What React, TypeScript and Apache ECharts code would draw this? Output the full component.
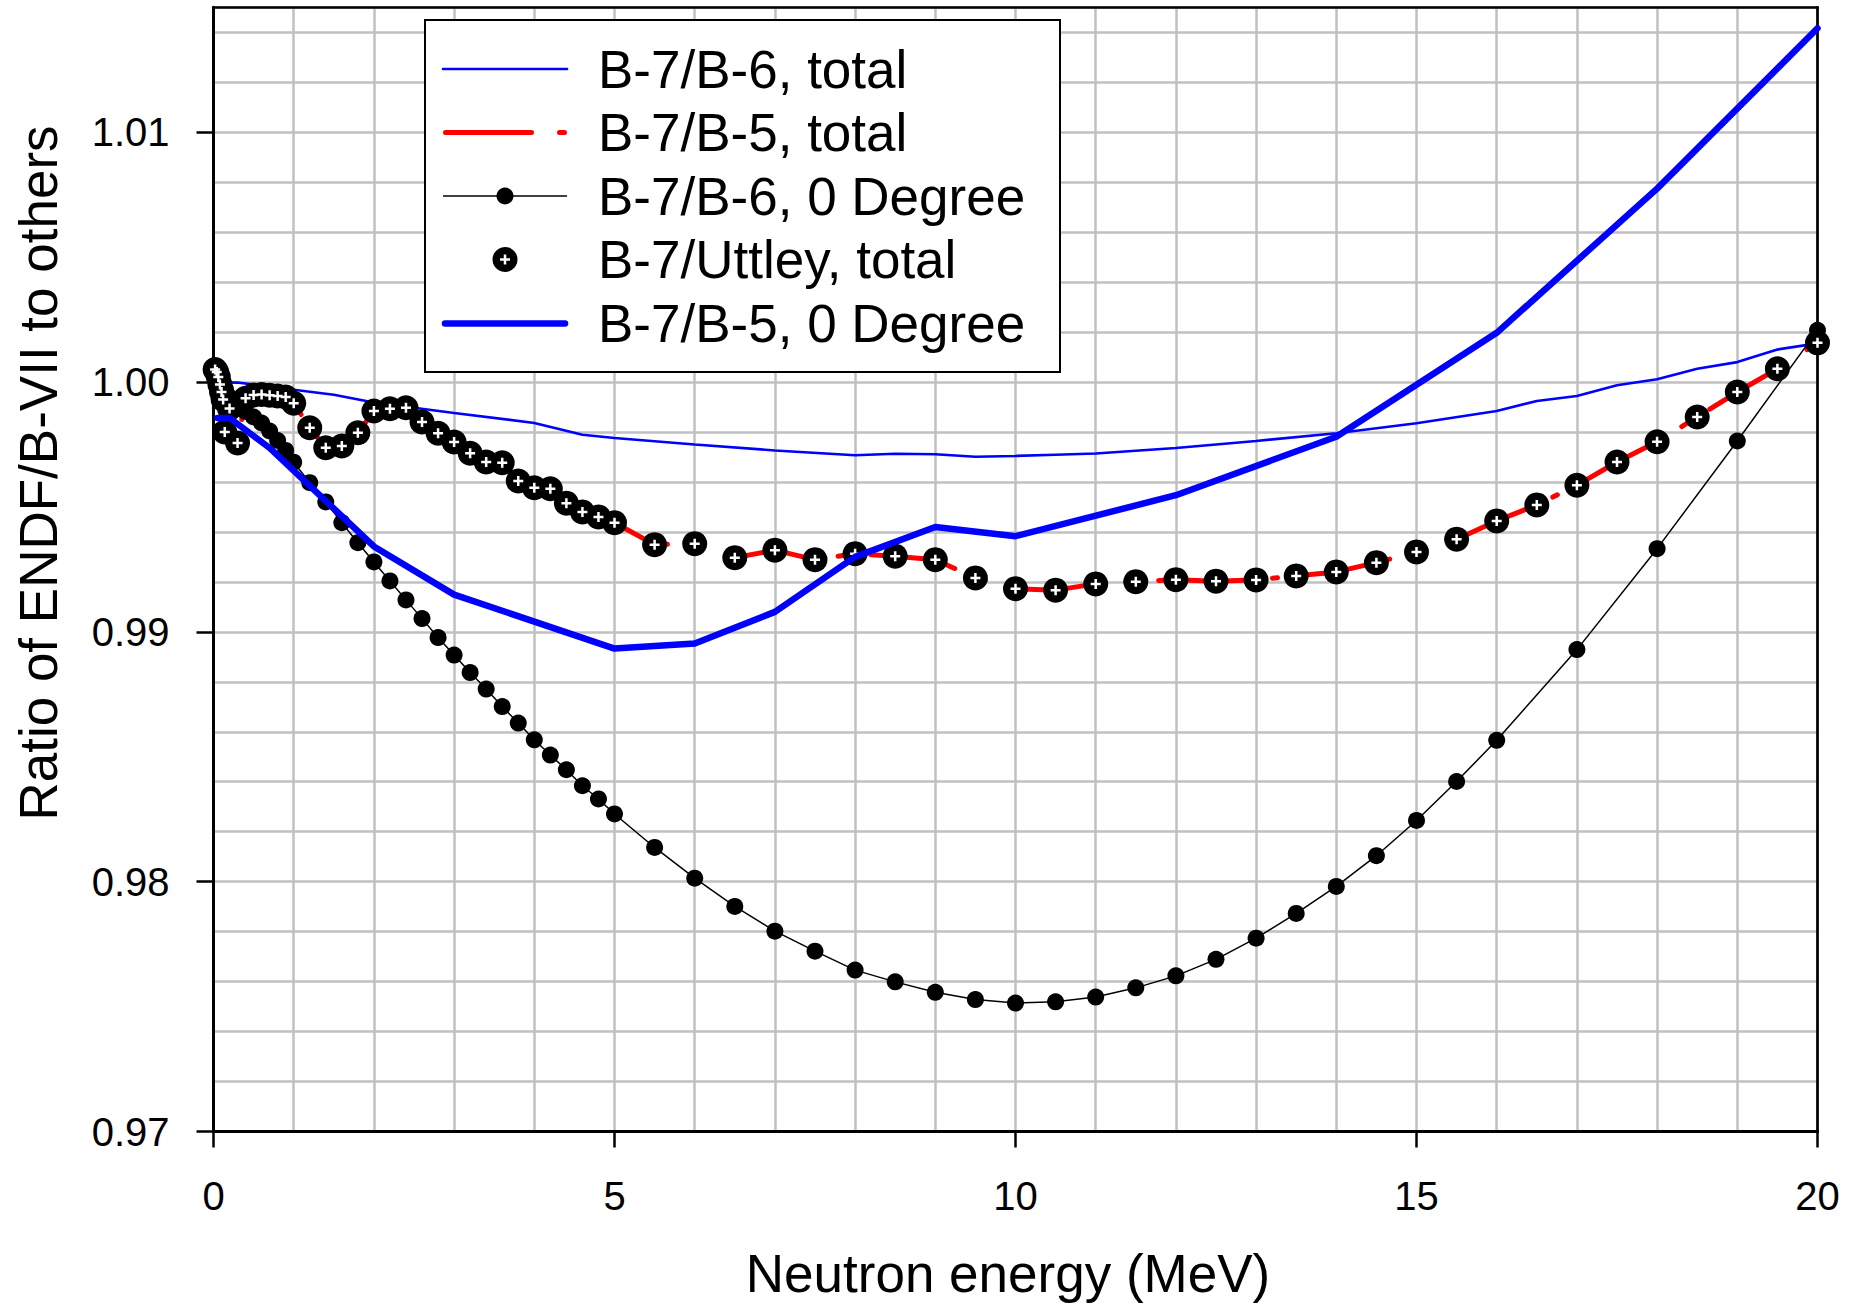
import React, { useEffect, useRef } from "react";
import * as echarts from "echarts";

// ---------------- data ----------------
// B-7/B-6, total (thin blue line)
const b6TotalX = [0, 0.3, 1, 1.5, 2, 3, 4, 4.6, 5, 6, 7, 8, 8.5, 9, 9.5, 10, 10.5, 11, 12, 13, 14, 15, 16, 16.5, 17, 17.5, 18, 18.5, 19, 19.5, 20];
const b6TotalY = [1.0, 0.99998, 0.99969, 0.99949, 0.99918, 0.99876, 0.99836, 0.99789, 0.99776, 0.9975, 0.99726, 0.99707, 0.99713, 0.99711, 0.99701, 0.99704, 0.99709, 0.99714, 0.99736, 0.99764, 0.99795, 0.99835, 0.99884, 0.99924, 0.99944, 0.99987, 1.00011, 1.00053, 1.0008, 1.0013, 1.00155];

// B-7/Uttley, total (circles with plus)
const uttleyX = [0.02, 0.04, 0.06, 0.08, 0.1, 0.12, 0.14, 0.2, 0.3, 0.4, 0.5, 0.6, 0.7, 0.8, 0.9, 1.0, 1.2, 1.4, 1.6, 1.8, 2.0, 2.2, 2.4, 2.6, 2.8, 3.0, 3.2, 3.4, 3.6, 3.8, 4.0, 4.2, 4.4, 4.6, 4.8, 5.0, 5.5, 6, 6.5, 7, 7.5, 8, 8.5, 9, 9.5, 10, 10.5, 11, 11.5, 12, 12.5, 13, 13.5, 14, 14.5, 15, 15.5, 16, 16.5, 17, 17.5, 18, 18.5, 19, 19.5, 20];
const uttleyY = [1.0005, 1.0004, 1.0002, 0.9999, 0.9996, 0.9993, 0.998, 0.99894, 0.99756, 0.99935, 0.99948, 0.9995, 0.99947, 0.99944, 0.9994, 0.99915, 0.99817, 0.99737, 0.99744, 0.99797, 0.99884, 0.99893, 0.99897, 0.9984, 0.99795, 0.9976, 0.99715, 0.9968, 0.99677, 0.99604, 0.99577, 0.99573, 0.99515, 0.9948, 0.9946, 0.99437, 0.99349, 0.99353, 0.99297, 0.99327, 0.99289, 0.99313, 0.99303, 0.99289, 0.99216, 0.99173, 0.99167, 0.99192, 0.99201, 0.99209, 0.99203, 0.99208, 0.99224, 0.9924, 0.99277, 0.9932, 0.99371, 0.99444, 0.99508, 0.99587, 0.9968, 0.99761, 0.9986, 0.9996, 1.00053, 1.00157];

// B-7/B-5, total (red dash-dot line)
const b5TotalX = [0.02, 0.04, 0.06, 0.08, 0.1, 0.12, 0.14, 0.2, 0.3, 0.4, 0.5, 0.6, 0.7, 0.8, 0.9, 1.0, 1.2, 1.4, 1.6, 1.8, 2.0, 2.2, 2.4, 2.6, 2.8, 3.0, 3.2, 3.4, 3.6, 3.8, 4.0, 4.2, 4.4, 4.6, 4.8, 5.0, 5.5, 6, 6.5, 7, 7.5, 8, 8.5, 9, 9.5, 10, 10.5, 11, 11.5, 12, 12.5, 13, 13.5, 14, 14.5, 15, 15.5, 16, 16.5, 17, 17.5, 18, 18.5, 19, 19.5, 20];
const b5TotalY = [1.0005, 1.0004, 1.0002, 0.9999, 0.9996, 0.9993, 0.998, 0.99894, 0.99756, 0.99935, 0.99948, 0.9995, 0.99947, 0.99944, 0.9994, 0.99915, 0.99817, 0.99737, 0.99744, 0.99797, 0.99884, 0.99893, 0.99897, 0.9984, 0.99795, 0.9976, 0.99715, 0.9968, 0.99677, 0.99604, 0.99577, 0.99573, 0.99515, 0.9948, 0.9946, 0.99437, 0.99349, 0.99353, 0.99297, 0.99327, 0.99289, 0.99313, 0.99303, 0.99289, 0.99216, 0.99173, 0.99167, 0.99192, 0.99201, 0.99209, 0.99203, 0.99208, 0.99224, 0.9924, 0.99277, 0.9932, 0.99371, 0.99444, 0.99508, 0.99587, 0.9968, 0.99761, 0.9986, 0.9996, 1.00053, 1.00157];

// B-7/B-6, 0 Degree (black line with dots)
const b6DegX = [0.01, 0.03, 0.06, 0.1, 0.15, 0.2, 0.3, 0.4, 0.5, 0.6, 0.7, 0.8, 0.9, 1.0, 1.2, 1.4, 1.6, 1.8, 2.0, 2.2, 2.4, 2.6, 2.8, 3.0, 3.2, 3.4, 3.6, 3.8, 4.0, 4.2, 4.4, 4.6, 4.8, 5.0, 5.5, 6, 6.5, 7, 7.5, 8, 8.5, 9, 9.5, 10, 10.5, 11, 11.5, 12, 12.5, 13, 13.5, 14, 14.5, 15, 15.5, 16, 17, 18, 19, 20];
const b6DegY = [1.0006, 1.0005, 1.0003, 1.0, 0.9997, 0.9994, 0.9991, 0.99882, 0.9986, 0.99836, 0.99804, 0.99766, 0.99726, 0.99679, 0.99597, 0.9952, 0.99437, 0.99357, 0.9928, 0.99204, 0.99128, 0.99053, 0.98977, 0.98907, 0.98837, 0.98771, 0.98701, 0.98635, 0.98568, 0.98507, 0.98448, 0.98384, 0.98331, 0.98271, 0.98137, 0.98014, 0.97901, 0.97802, 0.97722, 0.97646, 0.97599, 0.97557, 0.97528, 0.97514, 0.97519, 0.97538, 0.97575, 0.97623, 0.97689, 0.97774, 0.97873, 0.97981, 0.98104, 0.98245, 0.98401, 0.98566, 0.98929, 0.99333, 0.99764, 1.00207];

// B-7/B-5, 0 Degree (thick blue line)
const b5DegX = [0.05, 0.2, 0.7, 2, 3, 5, 6, 7, 8, 9, 10, 12, 14, 16, 18, 20];
const b5DegY = [0.99856, 0.99856, 0.99736, 0.99342, 0.99149, 0.98933, 0.98953, 0.9908, 0.993, 0.9942, 0.99383, 0.99547, 0.99781, 1.00197, 1.00774, 1.01416];

// axes
const xMajorTicks = [0, 5, 10, 15, 20];
const yMajorTicks = [0.97, 0.98, 0.99, 1.0, 1.01];

const legendNames = ["B-7/B-6, total", "B-7/B-5, total", "B-7/B-6, 0 Degree", "B-7/Uttley, total", "B-7/B-5, 0 Degree"];

const zip = (xs: number[], ys: number[]) => xs.map((x, i) => [x, ys[i]]);

const FONT = '"Liberation Sans", Arial, Helvetica, sans-serif';
const BLUE = "#0000ff";
const RED = "#ff0000";
const PLUS_PATH = "path://M-1,-4L1,-4L1,-1L4,-1L4,1L1,1L1,4L-1,4L-1,1L-4,1L-4,-1L-1,-1Z";
const RED_DASH = [86, 28, 5, 28];
const LZ = 200;

function buildLegend() {
  const rowY = [69, 132.5, 196, 259.5, 323.5];
  const x1 = 443;
  const x2 = 567;
  const xm = 505;
  const textX = 598;
  const els: any[] = [
    {
      type: "rect",
      z: LZ,
      shape: { x: 425, y: 20, width: 635, height: 352 },
      style: { fill: "#ffffff", stroke: "#000000", lineWidth: 2 },
    },
    { type: "line", z: LZ + 1, shape: { x1, y1: rowY[0], x2, y2: rowY[0] }, style: { stroke: BLUE, lineWidth: 2.7, lineCap: "round" } },
    { type: "line", z: LZ + 1, shape: { x1: x1 + 2.5, y1: rowY[1], x2: x2 - 2.5, y2: rowY[1] }, style: { stroke: RED, lineWidth: 5, lineCap: "round", lineDash: RED_DASH } },
    { type: "line", z: LZ + 1, shape: { x1, y1: rowY[2], x2, y2: rowY[2] }, style: { stroke: "#000", lineWidth: 1.5 } },
    { type: "circle", z: LZ + 2, shape: { cx: xm, cy: rowY[2], r: 8.5 }, style: { fill: "#000" } },
    { type: "circle", z: LZ + 2, shape: { cx: xm, cy: rowY[3], r: 12.5 }, style: { fill: "#000" } },
    { type: "rect", z: LZ + 3, shape: { x: xm - 5, y: rowY[3] - 1.25, width: 10, height: 2.5 }, style: { fill: "#fff" } },
    { type: "rect", z: LZ + 3, shape: { x: xm - 1.25, y: rowY[3] - 5, width: 2.5, height: 10 }, style: { fill: "#fff" } },
    { type: "line", z: LZ + 1, shape: { x1: x1 + 2, y1: rowY[4], x2: x2 - 2, y2: rowY[4] }, style: { stroke: BLUE, lineWidth: 6.5, lineCap: "round" } },
  ];
  legendNames.forEach((name, i) => {
    els.push({
      type: "text",
      z: LZ + 1,
      x: textX,
      y: rowY[i],
      style: { text: name, fill: "#000", font: `53px ${FONT}`, align: "left", verticalAlign: "middle" },
    });
  });
  return els;
}

export default function App() {
  const ref = useRef<HTMLDivElement>(null);

  useEffect(() => {
    if (!ref.current) return;
    const chart = echarts.init(ref.current, undefined, { renderer: "svg" });

    const hiddenAxisParts = {
      axisTick: { show: false },
      axisLabel: { show: false },
      splitLine: { show: false },
    };
    const gridLine = { show: true, lineStyle: { color: "#c0c0c0", width: 2.5 } };

    const option: any = {
      animation: false,
      backgroundColor: "#ffffff",
      grid: { left: 213.5, right: 32.5, top: 7.3, bottom: 172.5, containLabel: false },
      xAxis: [
        {
          type: "value",
          position: "bottom",
          min: 0,
          max: 20,
          interval: 5,
          axisLine: { show: true, onZero: false, lineStyle: { color: "#000", width: 3 } },
          axisTick: { show: true, customValues: xMajorTicks, length: 16, lineStyle: { color: "#000", width: 2.5 } },
          axisLabel: {
            show: true,
            customValues: xMajorTicks,
            margin: 44,
            color: "#000",
            fontSize: 40,
            fontFamily: FONT,
            formatter: (v: number) => String(v),
          },
          splitLine: { show: false },
          z: 3,
        },
        {
          type: "value",
          position: "top",
          min: 0,
          max: 20,
          axisLine: { show: true, onZero: false, lineStyle: { color: "#000", width: 2.7 } },
          ...hiddenAxisParts,
          z: 3,
        },
        {
          // minor 1 MeV grid
          type: "value",
          position: "bottom",
          min: 0,
          max: 20,
          interval: 1,
          axisLine: { show: false },
          axisTick: { show: false },
          axisLabel: { show: false },
          splitLine: gridLine,
          z: 0,
        },
      ],
      yAxis: [
        {
          type: "value",
          position: "left",
          min: 0.97,
          max: 1.015,
          interval: 0.01,
          axisLine: { show: true, onZero: false, lineStyle: { color: "#000", width: 3 } },
          axisTick: { show: true, customValues: yMajorTicks, length: 17, lineStyle: { color: "#000", width: 2.5 } },
          axisLabel: {
            show: true,
            customValues: yMajorTicks,
            margin: 44,
            color: "#000",
            fontSize: 40,
            fontFamily: FONT,
            formatter: (v: number) => v.toFixed(2),
          },
          splitLine: { show: false },
          z: 3,
        },
        {
          type: "value",
          position: "right",
          min: 0.97,
          max: 1.015,
          axisLine: { show: true, onZero: false, lineStyle: { color: "#000", width: 2.7 } },
          ...hiddenAxisParts,
          z: 3,
        },
        {
          // minor 0.002 grid
          type: "value",
          position: "left",
          min: 0.97,
          max: 1.015,
          interval: 0.002,
          axisLine: { show: false },
          axisTick: { show: false },
          axisLabel: { show: false },
          splitLine: gridLine,
          z: 0,
        },
      ],
      series: [
        {
          name: legendNames[0],
          type: "line",
          data: zip(b6TotalX, b6TotalY),
          symbol: "none",
          clip: false,
          lineStyle: { color: BLUE, width: 2.7 },
          itemStyle: { color: BLUE },
          z: 4,
        },
        {
          name: legendNames[1],
          type: "line",
          data: zip(b5TotalX, b5TotalY),
          symbol: "none",
          clip: false,
          lineStyle: { color: RED, width: 5, type: RED_DASH, cap: "round", join: "round" },
          itemStyle: { color: RED },
          z: 5,
        },
        {
          name: legendNames[2],
          type: "line",
          data: zip(b6DegX, b6DegY),
          symbol: "circle",
          symbolSize: 17,
          showSymbol: true,
          showAllSymbol: true,
          clip: false,
          lineStyle: { color: "#000", width: 1.5 },
          itemStyle: { color: "#000", borderWidth: 0 },
          z: 6,
        },
        {
          name: legendNames[3],
          type: "scatter",
          data: zip(uttleyX, uttleyY),
          symbol: "circle",
          symbolSize: 25,
          clip: false,
          itemStyle: { color: "#000", borderWidth: 0, opacity: 1 },
          z: 7,
        },
        {
          name: "uttley-plus",
          type: "scatter",
          data: zip(uttleyX, uttleyY),
          symbol: PLUS_PATH,
          symbolSize: 10,
          clip: false,
          silent: true,
          itemStyle: { color: "#ffffff", borderWidth: 0, opacity: 1 },
          z: 8,
        },
        {
          name: legendNames[4],
          type: "line",
          data: zip(b5DegX, b5DegY),
          symbol: "none",
          clip: false,
          lineStyle: { color: BLUE, width: 6.5, join: "round", cap: "round" },
          itemStyle: { color: BLUE },
          z: 9,
        },
      ],
      graphic: [
        ...buildLegend(),
        {
          type: "text",
          z: LZ,
          x: 38,
          y: 473,
          rotation: Math.PI / 2,
          style: {
            text: "Ratio of ENDF/B-VII to others",
            fill: "#000",
            font: `53px ${FONT}`,
            align: "center",
            verticalAlign: "middle",
          },
        },
        {
          type: "text",
          z: LZ,
          x: 1008,
          y: 1273,
          style: {
            text: "Neutron energy (MeV)",
            fill: "#000",
            font: `53px ${FONT}`,
            align: "center",
            verticalAlign: "middle",
          },
        },
      ],
    };

    chart.setOption(option);
    return () => {
      chart.dispose();
    };
  }, []);

  return (
    <div
      ref={ref}
      style={{ position: "absolute", left: 0, top: 0, width: 1850, height: 1304, background: "#fff" }}
    />
  );
}
